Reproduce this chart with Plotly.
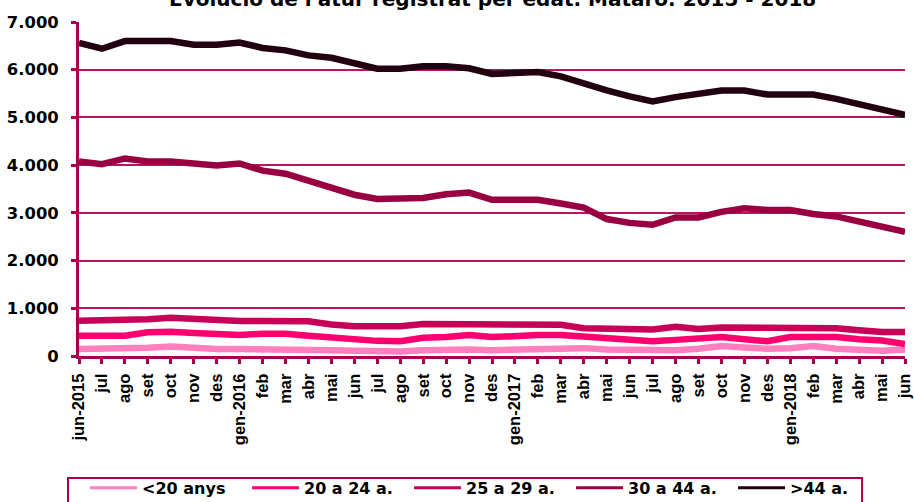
import plotly.graph_objects as go

months = ["jun-2015", "jul", "ago", "set", "oct", "nov", "des", "gen-2016", "feb", "mar", "abr", "mai",
          "jun", "jul", "ago", "set", "oct", "nov", "des", "gen-2017", "feb", "mar", "abr", "mai",
          "jun", "jul", "ago", "set", "oct", "nov", "des", "gen-2018", "feb", "mar", "abr", "mai", "jun"]

lt20 = [145, 145, 145, 175, 200, 160, 145, 145, 145, 145,
        137, 122, 108, 95, 95, 122, 137, 137, 122,
        137, 165, 173, 165, 137, 122, 108, 122, 151,
        209, 180, 151, 165, 209, 151, 122, 108, 137]
a20_24 = [424, 424, 424, 496, 510, 482, 446, 440, 468, 468,
          424, 381, 352, 317, 309, 381, 396, 439, 396,
          424, 439, 439, 410, 367, 338, 309, 338, 352,
          396, 352, 309, 396, 396, 396, 352, 324, 252]
a25_29 = [741, 741, 741, 770, 800, 777, 741, 735, 735, 735,
          727, 662, 626, 626, 626, 669, 669, 669, 662,
          655, 655, 655, 583, 568, 554, 554, 612, 568,
          597, 597, 597, 597, 597, 583, 540, 504, 504]
a30_44 = [4075, 4020, 4140, 4075, 4075, 4035, 3995, 4035, 3885, 3820, 3670, 3495, 3380, 3290, 3310, 3310,
          3390, 3425, 3275, 3275, 3275, 3195, 3110, 2870, 2790, 2750, 2905, 2905, 3020, 3095, 3060, 3060,
          2975, 2925, 2820, 2705, 2600]
gt44 = [6560, 6440, 6600, 6600, 6600, 6525, 6525, 6570, 6455, 6405, 6300, 6250, 6140, 6020, 6020, 6070,
        6070, 6030, 5910, 5915, 5950, 5860, 5705, 5565, 5440, 5335, 5425, 5495, 5565, 5565, 5480, 5480,
        5480, 5390, 5270, 5160, 5055]

series_names = ["<20 anys", "20 a 24 a.", "25 a 29 a.", "30 a 44 a.", ">44 a."]
series_vals = [lt20, a20_24, a25_29, a30_44, gt44]
series_colors = ["#FF7FBF", "#FF0070", "#C70058", "#990042", "#220010"]

y_tickvals = [0, 1000, 2000, 3000, 4000, 5000, 6000, 7000]
y_ticktext = ["0", "1.000", "2.000", "3.000", "4.000", "5.000", "6.000", "7.000"]

title_text = "Evolució de l'atur registrat per edat. Mataró. 2015 - 2018"

WIDE = "DejaVu Sans, sans-serif"
NARROW = "Liberation Sans, Arial, sans-serif"
AXC = "#A8004E"
GRID = "#C0105E"

x_idx = list(range(len(months)))

fig = go.Figure()
for name, vals, col in zip(series_names, series_vals, series_colors):
    fig.add_trace(go.Scatter(x=x_idx, y=vals, name=name, mode="lines", showlegend=False,
                             line=dict(color=col, width=6.5)))
# legend-only entries with thinner line samples
for name, col in zip(series_names, series_colors):
    fig.add_trace(go.Scatter(x=[None], y=[None], name=name, mode="lines", showlegend=True,
                             line=dict(color=col, width=3)))

fig.update_layout(
    width=914, height=502,
    margin=dict(l=79, r=9, t=22, b=146, autoexpand=False),
    paper_bgcolor="white", plot_bgcolor="white",
    font=dict(family=WIDE, size=16, color="black", weight="bold"),
    showlegend=True,
    legend=dict(orientation="h", x=0.0073, xanchor="left", y=-0.344, yanchor="top",
                borderwidth=0, bgcolor="rgba(0,0,0,0)",
                font=dict(family=WIDE, size=16, color="black", weight="bold"),
                itemwidth=47, entrywidth=100, entrywidthmode="pixels", tracegroupgap=0),
    annotations=[dict(text=title_text, x=0.5, xref="paper", y=1.0689, yref="paper",
                      xanchor="center", yanchor="middle", showarrow=False,
                      font=dict(family=WIDE, size=20, color="black", weight="bold"))],
    shapes=[dict(type="rect", xref="paper", yref="paper", x0=-0.0133, x1=0.948, y0=-0.365, y1=-0.446,
                 line=dict(color=AXC, width=2), fillcolor="rgba(0,0,0,0)", layer="below")],
)
fig.update_xaxes(range=[0, len(months) - 1], tickmode="array", tickvals=x_idx, ticktext=months,
                 tickangle=-90, showline=True, linecolor=AXC, linewidth=3,
                 ticks="outside", ticklen=5, tickwidth=3, tickcolor=AXC,
                 showgrid=False, zeroline=False, automargin=False, ticklabeloverflow="allow",
                 ticklabelstandoff=3,
                 tickfont=dict(family=NARROW, size=16.5, color="black", weight="bold"))
fig.update_yaxes(range=[0, 7000], tickmode="array", tickvals=y_tickvals, ticktext=y_ticktext,
                 showline=True, linecolor=AXC, linewidth=3,
                 ticks="outside", ticklen=5, tickwidth=3, tickcolor=AXC,
                 showgrid=True, gridcolor=GRID, gridwidth=1.5, zeroline=False, automargin=False,
                 ticklabelstandoff=9,
                 tickfont=dict(family=WIDE, size=16.4, color="black", weight="bold"))

fig.write_html("out.html", config={"displayModeBar": False},
               post_script="document.body.style.margin='0';")
